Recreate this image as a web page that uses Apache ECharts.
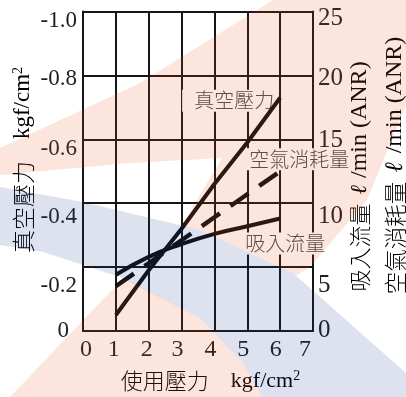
<!DOCTYPE html>
<html>
<head>
<meta charset="utf-8">
<script src="https://cdn.jsdelivr.net/npm/echarts@6/dist/echarts.min.js"></script>
<style>
  html, body { margin: 0; padding: 0; background: #ffffff; }
  #chart { width: 406px; height: 397px; }
</style>
</head>
<body>
<div id="chart"></div>
<script>
// Operating pressure (kgf/cm2) on the x axis
const pressure = [1, 2, 3, 4, 5, 6];
// Vacuum pressure (kgf/cm2), left axis
const vacuum = [-0.05, -0.19, -0.32, -0.46, -0.59, -0.73];
// Suction flow (l/min ANR), right axis
const suction = [4.4, 5.8, 6.8, 7.6, 8.2, 8.8];
// Air consumption (l/min ANR), right axis
const consumption = [3.5, 5.3, 7.1, 8.9, 10.7, 12.5];

const xTicks = [0, 1, 2, 3, 4, 5, 6, 7];
const xTickLabels = ['0', '1', '2', '3', '4', '5', '6', '7'];
const vacuumTicks = [-1.0, -0.8, -0.6, -0.4, -0.2, 0];
const vacuumTickLabels = ['-1.0', '-0.8', '-0.6', '-0.4', '-0.2', '0'];
const flowTicks = [0, 5, 10, 15, 20, 25];
const flowTickLabels = ['0', '5', '10', '15', '20', '25'];

const seriesNames = ['真空壓力', '空氣消耗量', '吸入流量'];

// ---- styling ----
const ink = '#161616';
const serif = '"Liberation Serif", "Times New Roman", "DejaVu Serif", serif';
const cjk = '"Noto Sans CJK TC", "Noto Sans CJK SC", sans-serif';
const labelInk = '#4a4a4a';

// nudges (px) for individual tick labels
const leftLabelDrop = [9, 4, 10, 14, 19, 0];
const leftLabelPullLeft = [0, 0, 0, 0, 0, 8];
const rightLabelDrop = [-1, 18, 13, 1, 3, 7];
const xLabelShift = [3, -2, -2, -4, -4, -4, -4.5, -8];

function findIdx(arr, v) {
  return arr.findIndex(t => Math.abs(t - v) < 1e-6);
}
function dropPad(d) {
  return d >= 0 ? [2 * d, 0, 0, 0] : [0, 0, -2 * d, 0];
}

const leftRich = {};
vacuumTicks.forEach((t, i) => {
  const p = dropPad(leftLabelDrop[i]);
  p[1] = leftLabelPullLeft[i];
  leftRich['t' + i] = { fontFamily: serif, fontSize: 23, color: '#1e1e1e', padding: p };
});
const rightRich = {};
flowTicks.forEach((t, i) => {
  rightRich['t' + i] = { fontFamily: serif, fontSize: 25, color: '#1e1e1e', padding: dropPad(rightLabelDrop[i]) };
});
const xRich = {};
xTicks.forEach((t, i) => {
  const d = xLabelShift[i];
  xRich['t' + i] = {
    fontFamily: serif, fontSize: 24, color: '#1e1e1e',
    padding: d >= 0 ? [0, 0, 0, 2 * d] : [0, -2 * d, 0, 0]
  };
});

// translucent emblem laid over the whole figure on its own layer
const salmonUpper = [
  [0, 148], [140, 83], [273, 0], [406, 0], [406, 105], [367, 200], [310, 267],
  [297, 275], [293, 273], [200, 230], [182, 226], [197, 200], [222, 158],
  [130, 163], [0, 175]
];
const salmonLower = [
  [10, 397], [110, 292], [125, 279], [200, 318], [243, 363], [262, 397]
];
const blueShape = [
  [0, 187], [83, 202], [200, 230], [293, 273], [406, 373], [406, 397],
  [262, 397], [243, 363], [200, 318], [120, 277], [43, 252], [0, 245]
];
const salmonTint = 'rgba(228, 80, 30, 0.15)';
const blueTint = 'rgba(30, 62, 142, 0.15)';

const chart = echarts.init(document.getElementById('chart'), null, { renderer: 'canvas' });

function titleRich(cjkSize) {
  return {
    c: { fontFamily: cjk, fontSize: cjkSize, fontWeight: 300, color: '#505050' },
    u: { fontFamily: serif, fontSize: cjkSize, color: '#2a2a2a', padding: [0, 0, 0, 22] },
    p: { fontFamily: serif, fontSize: 14, color: '#2a2a2a', verticalAlign: 'top', padding: [0, 0, 10, 0] }
  };
}
function flowTitleRich(cjkSize, ellSize, gapA, gapB) {
  return {
    c: { fontFamily: cjk, fontSize: cjkSize, fontWeight: 300, color: '#505050' },
    l: { fontFamily: serif, fontSize: ellSize, fontStyle: 'italic', color: '#2a2a2a', padding: [0, gapB, 0, gapA] },
    u: { fontFamily: serif, fontSize: 24, color: '#2a2a2a' }
  };
}

const option = {
  animation: false,
  backgroundColor: '#ffffff',
  grid: { left: 83, top: 11.5, width: 230, height: 319.5, outerBoundsMode: 'none', containLabel: false },
  xAxis: {
    type: 'value', min: 0, max: 7, interval: 1,
    axisLine: { show: true, lineStyle: { color: ink, width: 2 } },
    axisTick: { show: false },
    splitLine: { show: true, lineStyle: { color: ink, width: 2 } },
    axisLabel: {
      margin: 7,
      formatter: v => { const i = findIdx(xTicks, v); return '{t' + i + '|' + xTickLabels[i] + '}'; },
      rich: xRich
    }
  },
  yAxis: [
    {
      type: 'value', min: -1.0, max: 0, interval: 0.2, inverse: true, position: 'left',
      axisLine: { show: true, onZero: false, lineStyle: { color: ink, width: 2 } },
      axisTick: { show: false },
      splitLine: { show: true, lineStyle: { color: ink, width: 2 } },
      axisLabel: {
        margin: 6,
        formatter: v => { const i = findIdx(vacuumTicks, v); return '{t' + i + '|' + vacuumTickLabels[i] + '}'; },
        rich: leftRich
      }
    },
    {
      type: 'value', min: 0, max: 25, interval: 5, position: 'right',
      axisLine: { show: true, onZero: false, lineStyle: { color: ink, width: 2 } },
      axisTick: { show: false },
      splitLine: { show: false },
      axisLabel: {
        margin: 5,
        formatter: v => { const i = findIdx(flowTicks, v); return '{t' + i + '|' + flowTickLabels[i] + '}'; },
        rich: rightRich
      }
    }
  ],
  series: [
    {
      name: seriesNames[0], type: 'line', yAxisIndex: 0, symbol: 'none',
      data: pressure.map((p, i) => [p, vacuum[i]]),
      lineStyle: { color: '#0e0e0e', width: 4, cap: 'butt' }
    },
    {
      name: seriesNames[1], type: 'line', yAxisIndex: 1, symbol: 'none',
      data: pressure.map((p, i) => [p, consumption[i]]),
      lineStyle: { color: '#0e0e0e', width: 4.5, type: [22, 13], cap: 'butt' }
    },
    {
      name: seriesNames[2], type: 'line', yAxisIndex: 1, symbol: 'none', smooth: true,
      data: pressure.map((p, i) => [p, suction[i]]),
      lineStyle: { color: '#0e0e0e', width: 4, cap: 'butt' }
    }
  ],
  graphic: [
    {
      id: 'titleX', type: 'text', x: 210.5, y: 381, z: 5, silent: true,
      style: { text: '{c|使用壓力}{u|kgf/cm}{p|2}', align: 'center', verticalAlign: 'middle', rich: titleRich(22) }
    },
    {
      id: 'titleLeft', type: 'text', x: 23, y: 160, rotation: Math.PI / 2, z: 5, silent: true,
      style: { text: '{c|真空壓力}{u|kgf/cm}{p|2}', align: 'center', verticalAlign: 'middle', rich: titleRich(23) }
    },
    {
      id: 'titleRight1', type: 'text', x: 360, y: 176.5, rotation: Math.PI / 2, z: 5, silent: true,
      style: { text: '{c|吸入流量}{l|ℓ}{u|/min (ANR)}', align: 'center', verticalAlign: 'middle', rich: flowTitleRich(22, 23, 9, 7) }
    },
    {
      id: 'titleRight2', type: 'text', x: 395, y: 165.5, rotation: Math.PI / 2, z: 5, silent: true,
      style: { text: '{c|空氣消耗量}{l|ℓ}{u|/min (ANR)}', align: 'center', verticalAlign: 'middle', rich: flowTitleRich(22.5, 25, 9, 9) }
    },
    { id: 'tintSalmonA', type: 'polygon', zlevel: 5, z: 1, silent: true, shape: { points: salmonUpper }, style: { fill: salmonTint } },
    { id: 'tintSalmonB', type: 'polygon', zlevel: 5, z: 1, silent: true, shape: { points: salmonLower }, style: { fill: salmonTint } },
    { id: 'tintBlue', type: 'polygon', zlevel: 5, z: 2, silent: true, shape: { points: blueShape }, style: { fill: blueTint } }
  ]
};
chart.setOption(option);

// Curve captions, anchored to the end point of each curve
const last = pressure.length - 1;
const pVac = chart.convertToPixel({ xAxisIndex: 0, yAxisIndex: 0 }, [pressure[last], vacuum[last]]);
const pCon = chart.convertToPixel({ xAxisIndex: 0, yAxisIndex: 1 }, [pressure[last], consumption[last]]);
const pSuc = chart.convertToPixel({ xAxisIndex: 0, yAxisIndex: 1 }, [pressure[last], suction[last]]);
const captionStyle = {
  fontFamily: cjk, fontSize: 20, fontWeight: 300, fill: labelInk,
  backgroundColor: '#ffffff', verticalAlign: 'middle'
};
chart.setOption({
  graphic: [
    {
      id: 'capVac', type: 'text', z: 1, silent: true, x: pVac[0] - 5, y: pVac[1] + 3,
      style: Object.assign({}, captionStyle, { text: seriesNames[0], align: 'right', padding: [1, 1, 1, 12] })
    },
    {
      id: 'capCon', type: 'text', z: 1, silent: true, x: pCon[0] - 35, y: pCon[1] - 12,
      style: Object.assign({}, captionStyle, { text: seriesNames[1], align: 'left', padding: [1, 2, 1, 4] })
    },
    {
      id: 'capSuc', type: 'text', z: 1, silent: true, x: pSuc[0] - 38, y: pSuc[1] + 25,
      style: Object.assign({}, captionStyle, { text: seriesNames[2], align: 'left', padding: [1, 2, 1, 3] })
    }
  ]
});
</script>
</body>
</html>
